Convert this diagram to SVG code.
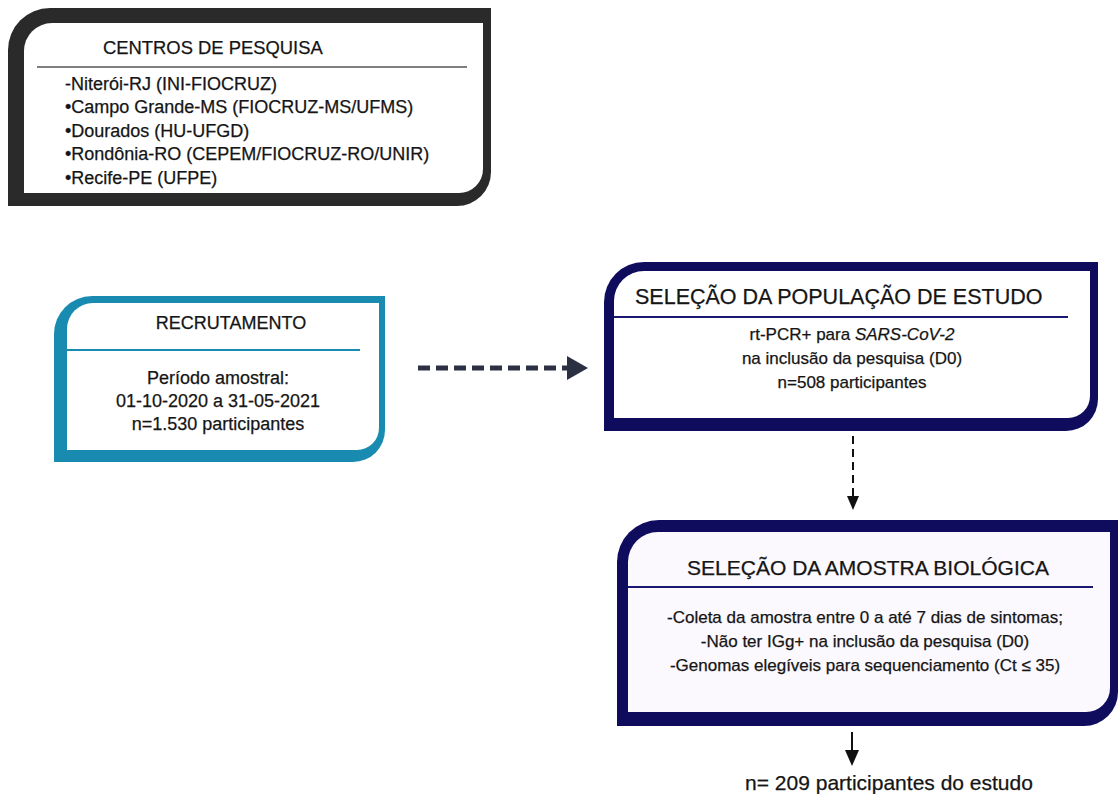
<svg xmlns="http://www.w3.org/2000/svg" width="1119" height="794" viewBox="0 0 1119 794">
<style>
text{font-family:"Liberation Sans",Arial,sans-serif;fill:#151515;stroke:#151515;stroke-width:0.25}
.c{text-anchor:middle}
.sep{stroke-width:2;fill:none}
</style>
<rect width="1119" height="794" fill="#fff"/>
<g id="centros">
<path d="M8 50 A42 42 0 0 1 50 8 H491 V172 A34 34 0 0 1 457 206 H8 Z" fill="#2a2a2a"/>
<path d="M24 51 A28 28 0 0 1 52 23 H483 V169 A24 24 0 0 1 459 193 H24 Z" fill="#fff"/>
<line x1="37" y1="67" x2="467" y2="67" stroke="#555" stroke-width="1.5"/>
<text x="103" y="54" font-size="18.4">CENTROS DE PESQUISA</text>
<text x="65" y="90" font-size="18">-Niterói-RJ (INI-FIOCRUZ)</text>
<text x="65" y="113" font-size="18">•Campo Grande-MS (FIOCRUZ-MS/UFMS)</text>
<text x="65" y="137" font-size="18">•Dourados (HU-UFGD)</text>
<text x="65" y="160" font-size="18">•Rondônia-RO (CEPEM/FIOCRUZ-RO/UNIR)</text>
<text x="65" y="184" font-size="18">•Recife-PE (UFPE)</text>
</g>
<g id="recrutamento">
<path d="M54 334 A38 38 0 0 1 92 296 H385 V430 A32 32 0 0 1 353 462 H54 Z" fill="#1a8bb0"/>
<path d="M67 329 A26 26 0 0 1 93 303 H379 V428 A22 22 0 0 1 357 450 H67 Z" fill="#fff"/>
<line class="sep" x1="67" y1="350" x2="360" y2="350" stroke="#1a8bb0"/>
<text class="c" x="231" y="329" font-size="18">RECRUTAMENTO</text>
<text class="c" x="218" y="384" font-size="18">Período amostral:</text>
<text class="c" x="218" y="407" font-size="18">01-10-2020 a 31-05-2021</text>
<text class="c" x="218" y="430" font-size="18">n=1.530 participantes</text>
</g>
<g id="populacao">
<path d="M604 302 A40 40 0 0 1 644 262 H1098 V399 A32 32 0 0 1 1066 431 H604 Z" fill="#0f0c5e"/>
<path d="M614 301 A30 30 0 0 1 644 271 H1090 V396 A22 22 0 0 1 1068 418 H614 Z" fill="#fff"/>
<line class="sep" x1="614" y1="317" x2="1068" y2="317" stroke="#1a1770"/>
<text x="635" y="304" font-size="21.5">SELEÇÃO DA POPULAÇÃO DE ESTUDO</text>
<text class="c" x="852" y="340" font-size="17">rt-PCR+ para <tspan font-style="italic">SARS-CoV-2</tspan></text>
<text class="c" x="852" y="364" font-size="17">na inclusão da pesquisa (D0)</text>
<text class="c" x="852" y="388" font-size="17">n=508 participantes</text>
</g>
<g id="amostra">
<path d="M617 562 A42 42 0 0 1 659 520 H1118 V692 A34 34 0 0 1 1084 726 H617 Z" fill="#0f0c5e"/>
<path d="M628 562 A30 30 0 0 1 658 532 H1110 V688 A24 24 0 0 1 1086 712 H628 Z" fill="#fbf8fe"/>
<line class="sep" x1="628" y1="587" x2="1093" y2="587" stroke="#1a1770"/>
<text class="c" x="868" y="575" font-size="21">SELEÇÃO DA AMOSTRA BIOLÓGICA</text>
<text class="c" x="865" y="623" font-size="17">-Coleta da amostra entre 0 a até 7 dias de sintomas;</text>
<text class="c" x="865" y="647" font-size="17">-Não ter IGg+ na inclusão da pesquisa (D0)</text>
<text class="c" x="865" y="671" font-size="17">-Genomas elegíveis para sequenciamento (Ct ≤ 35)</text>
</g>
<g id="resultado">
<text class="c" x="889" y="790" font-size="21">n= 209 participantes do estudo</text>
</g>
<g id="connectors">
<line x1="418" y1="368" x2="568" y2="368" stroke="#2b3142" stroke-width="5" stroke-dasharray="12 6"/>
<polygon points="567,356 588,368 567,380" fill="#2b3142"/>
<line x1="853" y1="436" x2="853" y2="498" stroke="#111" stroke-width="2" stroke-dasharray="8 5"/>
<polygon points="847,496 859,496 853,510" fill="#111"/>
<line x1="852" y1="732" x2="852" y2="752" stroke="#111" stroke-width="2"/>
<polygon points="845,750 859,750 852,766" fill="#111"/>
</g>
</svg>
